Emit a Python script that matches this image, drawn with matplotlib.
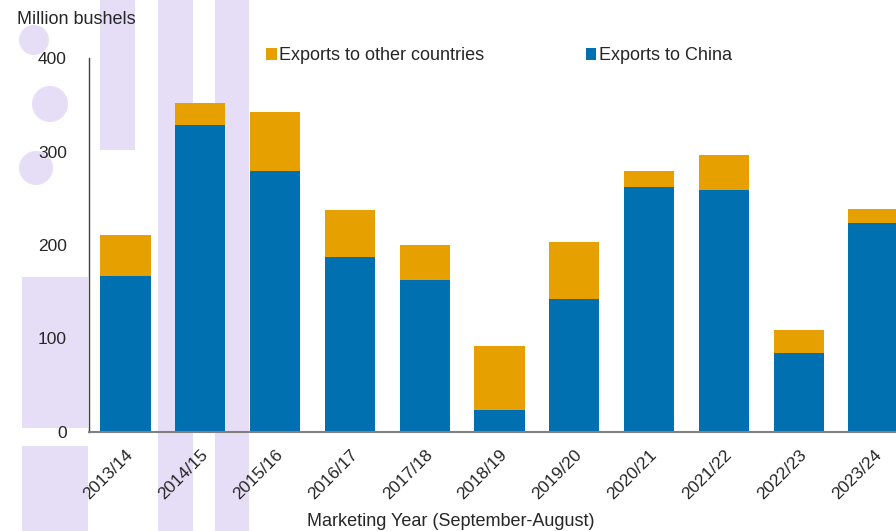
import matplotlib
matplotlib.use("Agg")
import matplotlib.pyplot as plt
from matplotlib.patches import Rectangle, Ellipse

# Soybean exports by marketing year, million bushels
years = ["2013/14", "2014/15", "2015/16", "2016/17", "2017/18", "2018/19",
         "2019/20", "2020/21", "2021/22", "2022/23", "2023/24"]
to_china = [167, 328, 279, 187, 163, 23, 142, 262, 259, 84, 223]
to_other = [44, 24, 63, 50, 37, 69, 61, 17, 37, 25, 16]
y_ticks = [0, 100, 200, 300, 400]

BLUE = "#0070b0"
GOLD = "#e6a000"
TEXT = "#262626"
LAV = "#e6def6"

plt.rcParams["font.family"] = ["Liberation Sans", "DejaVu Sans"]

W, H = 896, 531
fig = plt.figure(figsize=(W / 100, H / 100), dpi=100)


def px(x, y):
    # pixel position (from top-left) to figure fraction
    return x / W, 1 - y / H


# faint lavender background logo
bg = []
for (x0, x1, y0, y1) in [(100, 135, 0, 150), (158, 193, 0, 531),
                         (215, 249, 0, 531), (22, 88, 277, 428),
                         (22, 88, 446, 531)]:
    bx, by = px(x0, y1)
    bg.append(Rectangle((bx, by), (x1 - x0) / W, (y1 - y0) / H))
for (cx, cy, r) in [(34, 40, 15), (50, 104, 18), (36, 168, 17)]:
    ex, ey = px(cx, cy)
    bg.append(Ellipse((ex, ey), 2 * r / W, 2 * r / H))
for p in bg:
    p.set_facecolor(LAV)
    p.set_edgecolor("none")
    p.set_transform(fig.transFigure)
    p.set_zorder(0)
    fig.patches.append(p)

ax = fig.add_axes([89 / W, 1 - 432 / H, (W - 89) / W, (432 - 58) / H])
ax.set_facecolor("none")
ax.set_zorder(1)

x = list(range(len(years)))
ax.bar(x, to_china, width=0.67, color=BLUE, label="Exports to China", zorder=2)
ax.bar(x, to_other, width=0.67, bottom=to_china, color=GOLD,
       label="Exports to other countries", zorder=2)

ax.set_xlim(-0.488, 10.30)
ax.set_ylim(0, 400)
ax.set_yticks(y_ticks)
ax.set_xticks(x)
ax.set_xticklabels(years, rotation=45, ha="right", va="top",
                   rotation_mode="anchor")
ax.tick_params(axis="y", length=0, pad=16, labelsize=12.5, labelcolor=TEXT)
ax.tick_params(axis="x", length=0, pad=11, labelsize=12.5, labelcolor=TEXT)

for side in ["top", "right"]:
    ax.spines[side].set_visible(False)
ax.spines["left"].set_color("#404040")
ax.spines["left"].set_linewidth(1.0)
ax.spines["bottom"].set_color("#808080")
ax.spines["bottom"].set_linewidth(1.5)

handles, labels = ax.get_legend_handles_labels()
lx, ly = px(499, 56)
fig.legend(handles[::-1], labels[::-1], loc="center", bbox_to_anchor=(lx, ly),
           ncol=2, frameon=False, fontsize=13, handlelength=0.6,
           handleheight=0.6, handletextpad=0.15, columnspacing=5.6,
           labelcolor=TEXT)

tx, ty = px(17, 20)
fig.text(tx, ty, "Million bushels", fontsize=13, color=TEXT, va="center", ha="left")
tx, ty = px(451, 521)
fig.text(tx, ty, "Marketing Year (September-August)", fontsize=13, color=TEXT,
         va="center", ha="center")

fig.savefig("out.png", dpi=100)
